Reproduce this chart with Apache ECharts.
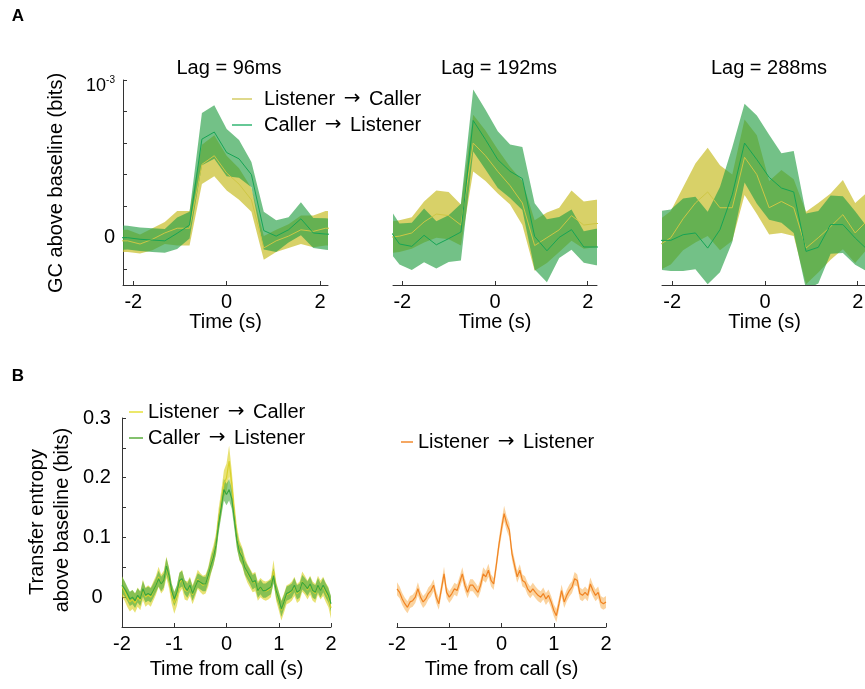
<!DOCTYPE html>
<html>
<head>
<meta charset="utf-8">
<script src="https://cdn.jsdelivr.net/npm/echarts@6/dist/echarts.min.js"></script>
<style>
html, body { margin: 0; padding: 0; background: #fff; }
#chart { width: 865px; height: 689px; }
</style>
</head>
<body>
<div id="chart"></div>
<script>
// ---------- Panel A: Granger causality (units of 1e-3 bits) ----------
const timeA1 = [-2.385, -2.12, -1.855, -1.59, -1.325, -1.06, -0.795, -0.53, -0.265, 0, 0.265, 0.53, 0.795, 1.06, 1.325, 1.59, 1.855, 2.12, 2.385];
const timeA2 = [-2.325, -2.06, -1.795, -1.53, -1.265, -1.0, -0.735, -0.47, -0.205, 0.06, 0.325, 0.59, 0.855, 1.12, 1.385, 1.65, 1.915, 2.18, 2.445];
const timeA3 = [-2.295, -2.03, -1.765, -1.5, -1.235, -0.97, -0.705, -0.44, -0.175, 0.09, 0.355, 0.62, 0.885, 1.15, 1.415, 1.68, 1.945, 2.21, 2.475];

// Lag = 96ms
const lc96Mean = [-0.02, -0.02, -0.04, -0.01, 0.03, 0.06, 0.06, 0.465, 0.52, 0.41, 0.34, 0.24, -0.065, -0.02, 0.01, 0.05, 0.04, 0.06, 0.06];
const lc96Sem  = [0.07, 0.07, 0.06, 0.07, 0.07, 0.11, 0.11, 0.125, 0.13, 0.11, 0.10, 0.075, 0.075, 0.07, 0.075, 0.09, 0.1, 0.11, 0.11];
const cl96Mean = [0.0, 0.0, -0.01, -0.015, -0.02, 0.028, 0.08, 0.625, 0.67, 0.54, 0.50, 0.40, 0.045, 0.01, 0.05, 0.12, 0.03, 0.023, 0.02];
const cl96Sem  = [0.08, 0.075, 0.075, 0.075, 0.075, 0.1, 0.085, 0.165, 0.17, 0.15, 0.12, 0.08, 0.12, 0.1, 0.08, 0.105, 0.095, 0.1, 0.1];

// Lag = 192ms
const lc192Mean = [0.0, 0.01, 0.03, 0.1, 0.15, 0.14, 0.08, 0.60, 0.52, 0.42, 0.33, 0.22, -0.05, 0.0, 0.05, 0.14, 0.08, 0.09, 0.09];
const lc192Sem  = [0.1, 0.1, 0.1, 0.13, 0.15, 0.15, 0.13, 0.18, 0.16, 0.14, 0.12, 0.14, 0.16, 0.16, 0.14, 0.16, 0.15, 0.15, 0.15];
const cl192Mean = [0.07, -0.04, -0.055, 0.015, -0.045, -0.006, 0.036, 0.743, 0.622, 0.495, 0.421, 0.375, 0.008, -0.083, 0.002, 0.051, -0.059, -0.059, -0.06];
const cl192Sem  = [0.14, 0.13, 0.15, 0.17, 0.15, 0.148, 0.18, 0.197, 0.19, 0.18, 0.17, 0.2, 0.21, 0.2, 0.13, 0.127, 0.1, 0.115, 0.115];

// Lag = 288ms
const lc288Mean = [-0.05, 0.0, 0.12, 0.22, 0.29, 0.19, 0.19, 0.51, 0.40, 0.19, 0.23, 0.19, -0.066, 0.0, 0.07, 0.146, 0.03, 0.11, 0.1];
const lc288Sem  = [0.16, 0.17, 0.2, 0.25, 0.28, 0.27, 0.21, 0.24, 0.25, 0.17, 0.2, 0.18, 0.23, 0.22, 0.21, 0.22, 0.19, 0.18, 0.18];
const cl288Mean = [-0.017, -0.017, 0.019, 0.03, -0.066, 0.051, 0.273, 0.60, 0.495, 0.383, 0.315, 0.29, -0.087, -0.061, 0.083, 0.083, -0.002, -0.076, -0.09];
const cl288Sem  = [0.185, 0.195, 0.23, 0.23, 0.23, 0.27, 0.3, 0.25, 0.28, 0.27, 0.22, 0.26, 0.24, 0.23, 0.185, 0.18, 0.17, 0.14, 0.14];

const ticksA_y = [-0.2, 0, 0.2, 0.4, 0.6, 0.8, 1.0];
const labelsA_y = [0, 1.0];
const ticksA_x = [-2, 0, 2];

// ---------- Panel B: transfer entropy (bits) ----------
const timeB = [
  -2.0, -1.95, -1.9, -1.85, -1.8, -1.75, -1.7, -1.65, -1.6, -1.55,
  -1.5, -1.45, -1.4, -1.35, -1.3, -1.25, -1.2, -1.15, -1.1, -1.05,
  -1.0, -0.95, -0.9, -0.85, -0.8, -0.75, -0.7, -0.65, -0.6, -0.55,
  -0.5, -0.45, -0.4, -0.35, -0.3, -0.25, -0.2, -0.15, -0.1, -0.05,
  0.0, 0.05, 0.1, 0.15, 0.2, 0.25, 0.3, 0.35, 0.4, 0.45,
  0.5, 0.55, 0.6, 0.65, 0.7, 0.75, 0.8, 0.85, 0.9, 0.95,
  1.0, 1.05, 1.1, 1.15, 1.2, 1.25, 1.3, 1.35, 1.4, 1.45,
  1.5, 1.55, 1.6, 1.65, 1.7, 1.75, 1.8, 1.85, 1.9, 1.95,
  2.0
];
const teLCMean = [
  0.018, 0.01, 0.0, -0.008, -0.004, -0.01, 0.0, -0.006, 0.012, 0.0,
  0.004, 0.0, 0.01, 0.02, 0.034, 0.022, 0.028, 0.05, 0.032, 0.006,
  -0.01, 0.002, 0.024, 0.03, 0.012, 0.01, 0.018, 0.004, 0.016, 0.03,
  0.024, 0.02, 0.022, 0.034, 0.055, 0.07, 0.09, 0.13, 0.158, 0.19,
  0.2, 0.228, 0.19, 0.14, 0.1, 0.078, 0.068, 0.052, 0.04, 0.032,
  0.024, 0.026, 0.01, 0.016, 0.012, 0.01, 0.012, 0.016, 0.044, 0.01,
  -0.006, -0.022, -0.01, 0.004, 0.006, 0.01, 0.018, 0.006, 0.01, 0.026,
  0.02, 0.012, 0.02, 0.01, 0.006, 0.02, 0.012, 0.018, 0.008, 0.0,
  -0.018
];
const teLCSem = [
  0.017, 0.016, 0.016, 0.016, 0.016, 0.016, 0.016, 0.016, 0.017, 0.016,
  0.016, 0.016, 0.016, 0.016, 0.017, 0.016, 0.016, 0.018, 0.017, 0.017,
  0.018, 0.017, 0.017, 0.016, 0.016, 0.016, 0.016, 0.016, 0.016, 0.016,
  0.016, 0.016, 0.016, 0.016, 0.017, 0.017, 0.018, 0.019, 0.02, 0.022,
  0.024, 0.026, 0.022, 0.02, 0.018, 0.017, 0.016, 0.016, 0.016, 0.016,
  0.016, 0.016, 0.016, 0.016, 0.016, 0.016, 0.016, 0.016, 0.018, 0.016,
  0.016, 0.017, 0.016, 0.016, 0.016, 0.016, 0.016, 0.016, 0.016, 0.017,
  0.016, 0.016, 0.016, 0.016, 0.016, 0.016, 0.016, 0.016, 0.016, 0.017,
  0.018
];
const teCLMean = [
  0.02, 0.014, 0.006, -0.003, 0.0, -0.006, 0.003, -0.003, 0.014, 0.003,
  0.006, 0.003, 0.011, 0.02, 0.031, 0.022, 0.028, 0.052, 0.036, 0.011,
  -0.003, 0.008, 0.028, 0.031, 0.017, 0.011, 0.02, 0.006, 0.017, 0.028,
  0.025, 0.022, 0.022, 0.036, 0.053, 0.067, 0.087, 0.123, 0.151, 0.18,
  0.172, 0.18, 0.165, 0.131, 0.095, 0.075, 0.067, 0.05, 0.042, 0.034,
  0.025, 0.028, 0.011, 0.017, 0.011, 0.011, 0.014, 0.017, 0.036, 0.011,
  -0.003, -0.02, -0.008, 0.006, 0.008, 0.011, 0.02, 0.008, 0.011, 0.025,
  0.02, 0.014, 0.022, 0.011, 0.008, 0.02, 0.011, 0.02, 0.011, 0.003,
  -0.011
];
const teCLSem = [
  0.014, 0.013, 0.012, 0.012, 0.012, 0.012, 0.012, 0.012, 0.013, 0.012,
  0.012, 0.012, 0.012, 0.012, 0.013, 0.012, 0.012, 0.014, 0.013, 0.012,
  0.012, 0.012, 0.013, 0.013, 0.012, 0.012, 0.012, 0.012, 0.012, 0.012,
  0.012, 0.012, 0.012, 0.012, 0.013, 0.013, 0.014, 0.015, 0.016, 0.018,
  0.018, 0.018, 0.017, 0.016, 0.014, 0.013, 0.013, 0.012, 0.012, 0.012,
  0.012, 0.012, 0.012, 0.012, 0.012, 0.012, 0.012, 0.012, 0.013, 0.012,
  0.012, 0.013, 0.012, 0.012, 0.012, 0.012, 0.012, 0.012, 0.012, 0.012,
  0.012, 0.012, 0.012, 0.012, 0.012, 0.012, 0.012, 0.012, 0.012, 0.012,
  0.013
];
const teLLMean = [
  0.014, 0.008, -0.003, -0.011, -0.017, -0.008, -0.006, 0.0, 0.014, 0.0,
  -0.008, -0.003, 0.006, 0.011, 0.02, 0.0, -0.011, 0.014, 0.039, 0.008,
  0.0, 0.006, 0.014, 0.011, 0.025, 0.039, 0.02, 0.008, 0.02, 0.02,
  0.014, 0.008, 0.02, 0.039, 0.034, 0.045, 0.028, 0.022, 0.053, 0.087,
  0.115, 0.14, 0.123, 0.112, 0.073, 0.053, 0.034, 0.045, 0.028, 0.025,
  0.014, 0.008, 0.014, 0.008, 0.003, 0.0, 0.006, -0.003, 0.003, -0.008,
  -0.022, -0.031, -0.011, 0.011, -0.008, 0.003, 0.011, 0.017, 0.031, 0.028,
  0.006, 0.003, 0.008, 0.003, 0.022, 0.011, 0.003, 0.008, -0.008, -0.011,
  -0.008
];
const teLLSem = [
  0.011, 0.01, 0.01, 0.01, 0.01, 0.01, 0.01, 0.01, 0.011, 0.01,
  0.01, 0.01, 0.01, 0.01, 0.01, 0.01, 0.01, 0.01, 0.012, 0.01,
  0.01, 0.01, 0.01, 0.01, 0.01, 0.011, 0.01, 0.01, 0.01, 0.01,
  0.01, 0.01, 0.01, 0.011, 0.01, 0.011, 0.01, 0.01, 0.011, 0.011,
  0.012, 0.013, 0.012, 0.012, 0.011, 0.011, 0.01, 0.01, 0.01, 0.01,
  0.01, 0.01, 0.01, 0.01, 0.01, 0.01, 0.01, 0.01, 0.01, 0.01,
  0.01, 0.011, 0.01, 0.01, 0.01, 0.01, 0.01, 0.01, 0.011, 0.01,
  0.01, 0.01, 0.01, 0.01, 0.011, 0.01, 0.01, 0.01, 0.01, 0.01,
  0.01
];
const ticksB_y = [0, 0.05, 0.1, 0.15, 0.2, 0.25, 0.3];
const labelsB_y = [0, 0.1, 0.2, 0.3];

// ---------- styling ----------
const FONT = 'Liberation Sans, Arial, Helvetica, sans-serif';
const AXIS_COLOR = '#333333';
const NAME_LC = 'Listener \u2192 Caller';
const NAME_CL = 'Caller \u2192 Listener';
const NAME_LL = 'Listener \u2192 Listener';

const colA = {
  lcBand: 'rgba(200,190,40,0.70)', lcLine: '#cdc646',
  clBand: 'rgba(40,160,70,0.65)', clLine: '#17a455'
};
const colB = {
  lcBand: 'rgba(218,208,30,0.62)', lcLine: '#d9d12c',
  clBand: 'rgba(70,170,60,0.60)', clLine: '#3aa63f',
  llBand: 'rgba(248,175,80,0.55)', llLine: '#f08322'
};

// shaded mean +/- sem band drawn as one polygon through the axis scales
function band(gi, t, mean, sem, color) {
  const lo = t.map((x, i) => mean[i] - sem[i]);
  const hi = t.map((x, i) => mean[i] + sem[i]);
  return {
    type: 'custom', xAxisIndex: gi, yAxisIndex: gi, clip: true, silent: true, animation: false,
    data: t.map((x, i) => [x, lo[i], hi[i]]),
    encode: { x: 0, y: [1, 2] },
    renderItem: function (params, api) {
      if (params.dataIndex !== 0) return null;
      const upper = [], lower = [];
      for (let i = 0; i < t.length; i++) {
        upper.push(api.coord([t[i], hi[i]]));
        lower.push(api.coord([t[i], lo[i]]));
      }
      return {
        type: 'polygon',
        shape: { points: upper.concat(lower.reverse()) },
        style: { fill: color, stroke: null }
      };
    }
  };
}
function meanLine(name, gi, t, mean, color, width) {
  return {
    type: 'line', name: name, xAxisIndex: gi, yAxisIndex: gi,
    data: t.map((x, i) => [x, mean[i]]), symbol: 'none', silent: true, animation: false, clip: true,
    lineStyle: { color: color, width: width }, itemStyle: { color: color }
  };
}

function xAxisCfg(gi, min, max, ticks, name, gap) {
  return {
    gridIndex: gi, type: 'value', min: min, max: max,
    axisLine: { show: true, onZero: false, lineStyle: { color: AXIS_COLOR, width: 1 } },
    axisTick: { show: true, inside: true, length: 4, customValues: ticks, lineStyle: { color: AXIS_COLOR } },
    axisLabel: { customValues: ticks, fontSize: 20, color: '#000', fontFamily: FONT, margin: 7 },
    splitLine: { show: false },
    name: name, nameLocation: 'middle', nameGap: gap,
    nameTextStyle: { fontSize: 20, color: '#000', fontFamily: FONT }
  };
}

const grids = [
  { left: 123, top: 80, width: 205, height: 205 },
  { left: 393, top: 80, width: 204, height: 205 },
  { left: 662, top: 80, width: 205, height: 205 },
  { left: 122, top: 418, width: 209, height: 209 },
  { left: 397, top: 418, width: 209, height: 209 }
].map(g => Object.assign({ outerBoundsMode: 'none', containLabel: false }, g));

const xAxes = [
  xAxisCfg(0, -2.22, 2.17, ticksA_x, 'Time (s)', 24),
  xAxisCfg(1, -2.2, 2.2, ticksA_x, 'Time (s)', 24),
  xAxisCfg(2, -2.22, 2.2, ticksA_x, 'Time (s)', 24),
  xAxisCfg(3, -2, 2, [-2, -1, 0, 1, 2], 'Time from call (s)', 32),
  xAxisCfg(4, -2, 2, [-2, -1, 0, 1, 2], 'Time from call (s)', 32)
];

const yAxes = [
  {
    gridIndex: 0, type: 'value', min: -0.3, max: 1.0,
    axisLine: { show: true, onZero: false, lineStyle: { color: AXIS_COLOR, width: 1 } },
    axisTick: { show: true, inside: true, length: 4, customValues: ticksA_y, lineStyle: { color: AXIS_COLOR } },
    axisLabel: {
      customValues: labelsA_y, margin: 8, color: '#000', fontFamily: FONT, fontSize: 20,
      formatter: v => (v === 0 ? '0' : '{b|10}{s|-3}'),
      rich: {
        b: { fontSize: 18, lineHeight: 18, fontFamily: FONT, color: '#000', padding: [12, 0, 0, 0] },
        s: { fontSize: 10, lineHeight: 10, fontFamily: FONT, color: '#000' }
      }
    },
    splitLine: { show: false }
  },
  { gridIndex: 1, type: 'value', min: -0.3, max: 1.0, show: false, splitLine: { show: false } },
  { gridIndex: 2, type: 'value', min: -0.3, max: 1.0, show: false, splitLine: { show: false } },
  {
    gridIndex: 3, type: 'value', min: -0.05, max: 0.3,
    axisLine: { show: true, onZero: false, lineStyle: { color: AXIS_COLOR, width: 1 } },
    axisTick: { show: true, inside: true, length: 4, customValues: ticksB_y, lineStyle: { color: AXIS_COLOR } },
    axisLabel: { customValues: labelsB_y, margin: 25, align: 'center', color: '#000', fontFamily: FONT, fontSize: 20 },
    splitLine: { show: false }
  },
  { gridIndex: 4, type: 'value', min: -0.05, max: 0.3, show: false, splitLine: { show: false } }
];

const series = [
  band(0, timeA1, lc96Mean, lc96Sem, colA.lcBand),
  meanLine(NAME_LC, 0, timeA1, lc96Mean, colA.lcLine, 1),
  band(0, timeA1, cl96Mean, cl96Sem, colA.clBand),
  meanLine(NAME_CL, 0, timeA1, cl96Mean, colA.clLine, 1),

  band(1, timeA2, lc192Mean, lc192Sem, colA.lcBand),
  meanLine(NAME_LC, 1, timeA2, lc192Mean, colA.lcLine, 1),
  band(1, timeA2, cl192Mean, cl192Sem, colA.clBand),
  meanLine(NAME_CL, 1, timeA2, cl192Mean, colA.clLine, 1),

  band(2, timeA3, lc288Mean, lc288Sem, colA.lcBand),
  meanLine(NAME_LC, 2, timeA3, lc288Mean, colA.lcLine, 1),
  band(2, timeA3, cl288Mean, cl288Sem, colA.clBand),
  meanLine(NAME_CL, 2, timeA3, cl288Mean, colA.clLine, 1),

  band(3, timeB, teLCMean, teLCSem, colB.lcBand),
  meanLine(NAME_LC, 3, timeB, teLCMean, colB.lcLine, 1.2),
  band(3, timeB, teCLMean, teCLSem, colB.clBand),
  meanLine(NAME_CL, 3, timeB, teCLMean, colB.clLine, 1.2),

  band(4, timeB, teLLMean, teLLSem, colB.llBand),
  meanLine(NAME_LL, 4, timeB, teLLMean, colB.llLine, 1.2)
];

// arrows set in DejaVu Sans so they sit on the text's mid-line
function arrowText(name) {
  const parts = name.split(' \u2192 ');
  return parts[0] + ' {ar|\u2192} ' + parts[1];
}
function legendCfg(left, top, gap, textPad, width, items) {
  return {
    orient: 'vertical', left: left, top: top, padding: 0, itemGap: gap,
    itemWidth: width, itemHeight: 1.5, icon: 'rect', selectedMode: false,
    formatter: arrowText,
    textStyle: {
      fontSize: 20, color: '#000', fontFamily: FONT, padding: [0, 0, 0, textPad],
      rich: { ar: { fontSize: 20, fontFamily: 'DejaVu Sans', color: '#000', padding: [0, 3, 0, 3] } }
    },
    data: items.map(it => ({ name: it[0], icon: 'rect', itemStyle: { color: it[1], borderWidth: 0 } }))
  };
}

const legends = [
  legendCfg(232, 89, 6, 7, 20, [[NAME_LC, '#d4cc66'], [NAME_CL, '#33b673']]),
  legendCfg(129, 402, 6, 0, 14, [[NAME_LC, '#e6e03a'], [NAME_CL, '#5aad3c']]),
  legendCfg(401, 432, 6, 0, 12, [[NAME_LL, '#f28a2e']])
];

function label(text, x, y, opts) {
  return Object.assign({
    type: 'text', x: x, y: y, silent: true,
    style: Object.assign({
      text: text, fontSize: 20, fontFamily: FONT, fill: '#000',
      align: 'center', verticalAlign: 'middle', textAlign: 'center', textVerticalAlign: 'middle'
    }, (opts && opts.style) || {})
  }, (opts && opts.el) || {});
}

const graphics = [
  label('A', 18, 16, { style: { fontSize: 17, fontWeight: 'bold' } }),
  label('B', 18, 376, { style: { fontSize: 17, fontWeight: 'bold' } }),
  label('Lag = 96ms', 229, 68),
  label('Lag = 192ms', 499, 68),
  label('Lag = 288ms', 769, 68),
  label('GC above baseline (bits)', 56, 183, { el: { rotation: Math.PI / 2 } }),
  label('Transfer entropy', 37, 522, { el: { rotation: Math.PI / 2 } }),
  label('above baseline (bits)', 62, 520, { el: { rotation: Math.PI / 2 } })
];

const chart = echarts.init(document.getElementById('chart'), null, { renderer: 'canvas' });
chart.setOption({
  backgroundColor: '#ffffff',
  animation: false,
  textStyle: { fontFamily: FONT },
  grid: grids,
  xAxis: xAxes,
  yAxis: yAxes,
  legend: legends,
  series: series,
  graphic: graphics
});
</script>
</body>
</html>
